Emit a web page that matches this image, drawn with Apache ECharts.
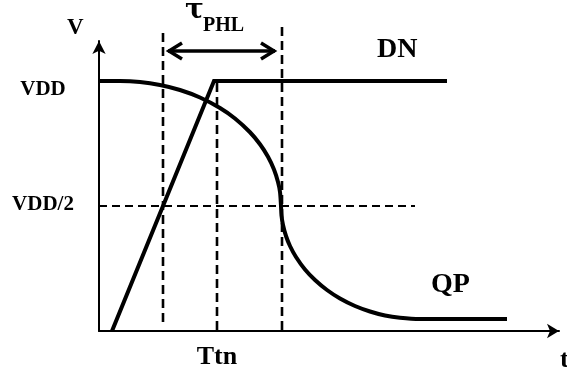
<!DOCTYPE html>
<html>
<head>
<meta charset="utf-8">
<script src="https://cdn.jsdelivr.net/npm/echarts@6/dist/echarts.min.js"></script>
<style>
  html, body { margin: 0; padding: 0; background: #fff; }
  #chart { width: 567px; height: 372px; }
</style>
</head>
<body>
<div id="chart"></div>
<script>
// Time in arbitrary units, voltage normalised so that VDD = 1.
const dnTime = [2.6, 23.0, 69.6];
const dnVolt = [0, 1, 1];

const qpTime = [0, 4.2, 8.2, 12.2, 16.2, 20.2, 24.2, 27.2, 30.2, 32.2, 33.8, 35.0, 35.8, 36.2, 36.4,
                36.5, 36.8, 37.4, 38.2, 39.4, 41.2, 43.2, 45.6, 48.2, 51.2, 54.2, 57.2, 60.2, 64.2, 81.6];
const qpVolt = [1.0, 1.0, 0.996, 0.984, 0.964, 0.934, 0.892, 0.85, 0.795, 0.747, 0.697, 0.646, 0.596, 0.556, 0.5,
                0.462, 0.424, 0.38, 0.34, 0.296, 0.246, 0.204, 0.164, 0.13, 0.1, 0.078, 0.062, 0.053, 0.048, 0.048];

// Reference instants: DN at VDD/2, Ttn, QP at VDD/2
const markTimes = [12.8, 23.6, 36.6];
const markTop = [1.192, 0.992, 1.216];
const markBottom = [0.024, 0, 0];

const halfLevel = 0.5;
const halfLineEnd = 63.2;
const delayLevel = 1.12;

const yTickValues = [0.5, 1];
const yTickLabels = ['VDD/2', 'VDD'];
const xTickValues = [23.6];
const xTickLabels = ['Ttn'];

const FONT = "'Liberation Serif', 'Times New Roman', serif";

const pairs = (xs, ys) => xs.map((x, i) => [x, ys[i]]);

const dashedSeries = markTimes.map((t, i) => ({
  type: 'line',
  data: [[t, markTop[i]], [t, markBottom[i]]],
  symbol: 'none',
  clip: false,
  silent: true,
  lineStyle: { color: '#000', width: 2.6, type: [9, 5] }
}));

const chart = echarts.init(document.getElementById('chart'), null, { renderer: 'canvas' });

chart.setOption({
  animation: false,
  backgroundColor: '#fff',
  grid: { left: 99, top: 41, width: 460, height: 290, containLabel: false },
  xAxis: {
    type: 'value', min: 0, max: 92,
    splitLine: { show: false },
    axisLine: { show: true, symbol: ['none', 'arrow'], symbolSize: [11, 12],
                lineStyle: { color: '#000', width: 2 } },
    axisTick: { show: false },
    axisLabel: {
      customValues: xTickValues,
      formatter: (v) => xTickLabels[xTickValues.indexOf(v)],
      color: '#000', fontFamily: FONT, fontWeight: 'bold', fontSize: 26, margin: 13
    }
  },
  yAxis: {
    type: 'value', min: 0, max: 1.16,
    splitLine: { show: false },
    axisLine: { show: true, symbol: ['none', 'arrow'], symbolSize: [10, 13],
                lineStyle: { color: '#000', width: 2 } },
    axisTick: { show: false },
    axisLabel: {
      customValues: yTickValues,
      formatter: (v) => v === 1 ? '{a|' + yTickLabels[1] + '}' : '{b|' + yTickLabels[0] + '}',
      align: 'center', margin: 56,
      rich: {
        a: { color: '#000', fontFamily: FONT, fontWeight: 'bold', fontSize: 21, padding: [18, 0, 0, 0] },
        b: { color: '#000', fontFamily: FONT, fontWeight: 'bold', fontSize: 21, padding: [0, 0, 2, 0] }
      }
    }
  },
  graphic: [
    { type: 'text', left: 67, top: 17, style: { text: 'V', font: 'bold 23px ' + FONT, fill: '#000' } },
    { type: 'text', left: 560, top: 347, style: { text: 't', font: 'bold 26px ' + FONT, fill: '#000' } },
    { type: 'text', left: 377, top: 36, style: { text: 'DN', font: 'bold 28px ' + FONT, fill: '#000' } },
    { type: 'text', left: 431, top: 271, style: { text: 'QP', font: 'bold 28px ' + FONT, fill: '#000' } },
    { type: 'text', left: 185, top: -3, style: { text: 'τ', font: "bold 28px 'DejaVu Serif', serif", fill: '#000' } },
    { type: 'text', left: 203, top: 16, style: { text: 'PHL', font: 'bold 20px ' + FONT, fill: '#000' } }
  ],
  series: [
    ...dashedSeries,
    {
      type: 'line',
      data: [[0, halfLevel], [halfLineEnd, halfLevel]],
      symbol: 'none', silent: true,
      lineStyle: { color: '#000', width: 2, type: [8, 5] }
    },
    {
      name: 'DN', type: 'line',
      data: pairs(dnTime, dnVolt),
      symbol: 'none',
      lineStyle: { color: '#000', width: 4, join: 'miter' }
    },
    {
      name: 'QP', type: 'line',
      data: pairs(qpTime, qpVolt),
      symbol: 'none', smooth: 0.3,
      lineStyle: { color: '#000', width: 4 }
    },
    {
      // double-headed delay arrow between the two VDD/2 crossings
      type: 'custom',
      silent: true,
      clip: false,
      data: [[markTimes[0], markTimes[2], delayLevel]],
      renderItem(params, api) {
        const a = api.coord([api.value(0), api.value(2)]);
        const b = api.coord([api.value(1), api.value(2)]);
        const x1 = a[0] + 5, x2 = b[0] - 7, y = a[1];
        const st = { stroke: '#000', lineWidth: 3.5, fill: null };
        return {
          type: 'group',
          children: [
            { type: 'line', shape: { x1: x1, y1: y, x2: x2, y2: y }, style: st },
            { type: 'polyline', shape: { points: [[x1 + 14, y - 8], [x1 + 1, y], [x1 + 14, y + 8]] }, style: st },
            { type: 'polyline', shape: { points: [[x2 - 14, y - 8], [x2 - 1, y], [x2 - 14, y + 8]] }, style: st }
          ]
        };
      }
    }
  ]
});
</script>
</body>
</html>
